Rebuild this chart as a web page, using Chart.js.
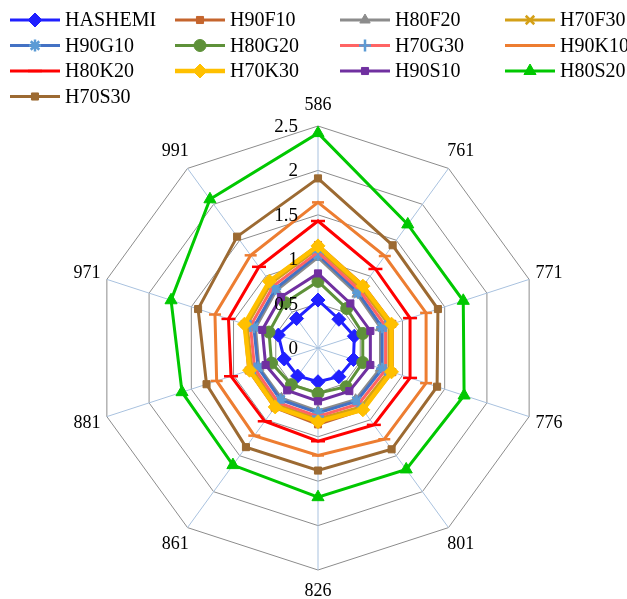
<!DOCTYPE html>
<html>
<head>
<meta charset="utf-8">
<script src="https://cdn.jsdelivr.net/npm/chart.js@4.4.0/dist/chart.umd.min.js"></script>
<style>
body { margin: 0; background: #fff; }
#wrap { width: 627px; height: 599px; position: relative; }
</style>
</head>
<body>
<div id="wrap"><canvas id="radarChart"></canvas></div>
<script>
const axes = ['586', '761', '771', '776', '801', '826', '861', '881', '971', '991'];
const tickValues = [0, 0.5, 1, 1.5, 2, 2.5];

const hashemi = [0.54, 0.40, 0.43, 0.42, 0.40, 0.38, 0.39, 0.40, 0.47, 0.41];
const h90f10 = [1.16, 0.87, 0.88, 0.88, 0.86, 0.86, 0.83, 0.82, 0.87, 0.93];
const h80f20 = [1.02, 0.75, 0.74, 0.74, 0.72, 0.71, 0.70, 0.70, 0.74, 0.80];
const h70f30 = [1.12, 0.83, 0.84, 0.84, 0.82, 0.80, 0.79, 0.78, 0.84, 0.90];
const h90g10 = [1.05, 0.77, 0.76, 0.76, 0.74, 0.73, 0.72, 0.71, 0.76, 0.82];
const h80g20 = [0.75, 0.55, 0.53, 0.53, 0.54, 0.51, 0.51, 0.55, 0.58, 0.63];
const h70g30 = [1.08, 0.80, 0.80, 0.80, 0.78, 0.77, 0.76, 0.75, 0.80, 0.86];
const h90k10 = [1.64, 1.28, 1.28, 1.28, 1.27, 1.21, 1.22, 1.20, 1.22, 1.29];
const h80k20 = [1.43, 1.10, 1.09, 1.09, 1.07, 1.05, 1.02, 1.03, 1.06, 1.13];
const h70k30 = [1.15, 0.86, 0.87, 0.87, 0.86, 0.83, 0.82, 0.81, 0.87, 0.93];
const h90s10 = [0.84, 0.62, 0.62, 0.62, 0.60, 0.60, 0.59, 0.62, 0.66, 0.71];
const h80s20 = [2.42, 1.72, 1.72, 1.73, 1.69, 1.68, 1.63, 1.61, 1.74, 2.07];
const h70s30 = [1.91, 1.43, 1.42, 1.41, 1.41, 1.38, 1.38, 1.32, 1.42, 1.55];

const seriesNames = ['HASHEMI', 'H90F10', 'H80F20', 'H70F30', 'H90G10', 'H80G20', 'H70G30',
	'H90K10', 'H80K20', 'H70K30', 'H90S10', 'H80S20', 'H70S30'];
const seriesValues = [hashemi, h90f10, h80f20, h70f30, h90g10, h80g20, h70g30,
	h90k10, h80k20, h70k30, h90s10, h80s20, h70s30];

// look of each series, same order as the names
const lineColors = ['#2020ff', '#c5652d', '#8c8c8c', '#d4a017', '#4472c4', '#5e9139', '#ff6464',
	'#ed7d31', '#ff0000', '#ffc000', '#7030a0', '#00c800', '#9c6a32'];
const markerColors = ['#2020ff', '#c5652d', '#8c8c8c', '#d4a017', '#5b9bd5', '#5e9139', '#5b9bd5',
	'#ed7d31', '#ff0000', '#ffc000', '#7030a0', '#00c800', '#9c6a32'];
const markerStyles = ['rectRot', 'rect', 'triangle', 'crossRot', 'star', 'circle', 'cross',
	'line', 'line', 'rectRot', 'rect', 'triangle', 'rect'];
const markerSizes = [7, 5, 6, 6, 6, 6, 6, 6, 7, 7, 5, 7, 5];
const lineWidths = [3, 3, 3, 3, 3, 3, 3, 3, 3, 4.5, 3, 3, 3];

const datasets = seriesNames.map((name, i) => ({
	label: name,
	data: seriesValues[i],
	borderColor: lineColors[i],
	borderWidth: lineWidths[i],
	fill: false,
	pointStyle: markerStyles[i],
	pointRadius: markerSizes[i],
	pointBackgroundColor: markerColors[i],
	pointBorderColor: markerColors[i],
	pointBorderWidth: ['crossRot', 'star', 'cross', 'line'].includes(markerStyles[i]) ? 2.5 : 1,
	order: seriesNames.length - i // later series on top, like the original
}));

const gridLegend = {
	id: 'gridLegend',
	afterDraw(chart) {
		const ctx = chart.ctx;
		chart.data.datasets.forEach((ds, i) => {
			const x = 10 + (i % 4) * 165;
			const y = 20 + Math.floor(i / 4) * 25.5;
			ctx.save();
			ctx.strokeStyle = ds.borderColor;
			ctx.lineWidth = ds.borderWidth;
			ctx.beginPath();
			ctx.moveTo(x, y);
			ctx.lineTo(x + 50, y);
			ctx.stroke();
			ctx.fillStyle = ds.pointBackgroundColor;
			ctx.strokeStyle = ds.pointBorderColor;
			ctx.lineWidth = ds.pointBorderWidth;
			Chart.helpers.drawPoint(ctx, {
				pointStyle: ds.pointStyle, radius: ds.pointRadius, rotation: 0, borderWidth: ds.pointBorderWidth
			}, x + 25, y);
			ctx.fillStyle = '#000';
			ctx.font = '20px "Liberation Serif", "Times New Roman", serif';
			ctx.textBaseline = 'middle';
			ctx.textAlign = 'left';
			ctx.fillText(ds.label, x + 55, y + 1);
			ctx.restore();
		});
	}
};

const axisText = {
	id: 'axisText',
	afterDatasetsDraw(chart) {
		const r = chart.scales.r;
		const ctx = chart.ctx;
		ctx.save();
		ctx.fillStyle = '#000';
		ctx.textBaseline = 'middle';
		ctx.font = '19px "Liberation Serif", "Times New Roman", serif';
		ctx.textAlign = 'right';
		tickValues.forEach(v => {
			ctx.fillText(String(v), r.xCenter - 20, r.yCenter - r.getDistanceFromCenterForValue(v) + 1);
		});
		ctx.textAlign = 'center';
		ctx.font = '18px "Liberation Serif", "Times New Roman", serif';
		axes.forEach((a, i) => {
			const p = r.getPointPosition(i, r.drawingArea + 21);
			ctx.fillText(a, p.x, p.y);
		});
		ctx.restore();
	}
};

const drawRadarChart = () => {
	new Chart(document.getElementById('radarChart'), {
		type: 'radar',
		data: { labels: axes, datasets: datasets },
		options: {
			responsive: true,
			maintainAspectRatio: false,
			animation: false,
			layout: { padding: { top: 126, bottom: 29, left: 9, right: 0 } },
			plugins: {
				legend: { display: false },
				tooltip: { enabled: false }
			},
			scales: {
				r: {
					min: 0,
					max: 2.5,
					ticks: { stepSize: 0.5, display: false },
					pointLabels: { display: false },
					grid: { color: '#8c8c8c', lineWidth: 1 },
					angleLines: { color: '#a9c2df', lineWidth: 1 }
				}
			}
		},
		plugins: [gridLegend, axisText]
	});
};

drawRadarChart();
</script>
</body>
</html>
